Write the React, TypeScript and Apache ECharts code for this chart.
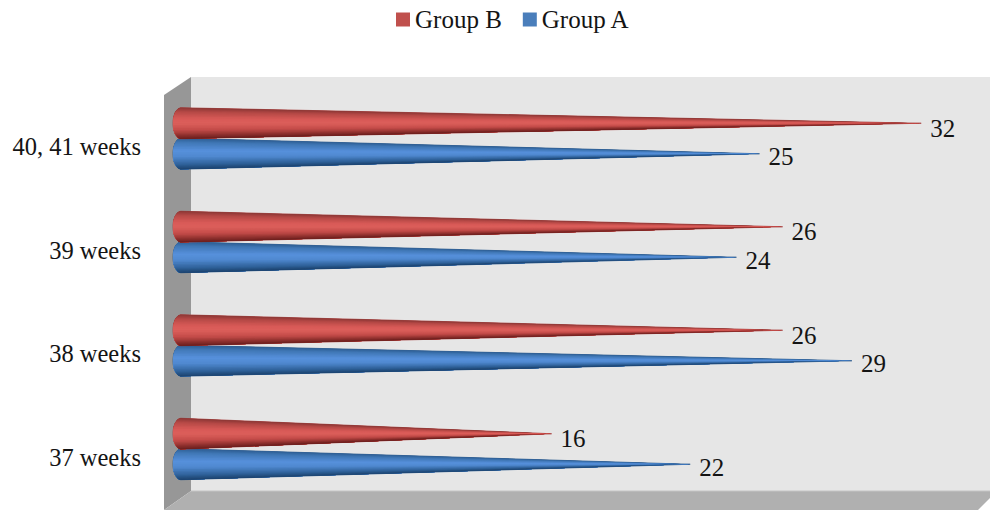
import React, { useEffect, useRef } from "react";
import * as echarts from "echarts";

const categories = ["37 weeks", "38 weeks", "39 weeks", "40, 41 weeks"];
const groupA = [22, 29, 24, 25];
const groupB = [16, 26, 26, 32];

const SERIF = '"Liberation Serif", "Times New Roman", serif';
const INK = "#141414";

// Colour ramps across a cone's height, top edge to bottom edge.
const redRamp: [number, number[]][] = [
  [0, [140, 56, 54]],
  [0.12, [180, 72, 69]],
  [0.35, [216, 90, 87]],
  [0.5, [220, 95, 91]],
  [0.72, [196, 76, 73]],
  [0.9, [140, 47, 45]],
  [1, [107, 31, 30]],
];
const blueRamp: [number, number[]][] = [
  [0, [47, 95, 148]],
  [0.12, [63, 118, 180]],
  [0.4, [87, 145, 220]],
  [0.6, [79, 136, 207]],
  [0.85, [47, 97, 153]],
  [1, [29, 68, 112]],
];

function rampColor(ramp: [number, number[]][], t: number): string {
  for (let i = 1; i < ramp.length; i++) {
    if (t <= ramp[i][0]) {
      const [t0, c0] = ramp[i - 1];
      const [t1, c1] = ramp[i];
      const k = (t - t0) / (t1 - t0);
      const mix = c0.map((c, j) => Math.round(c + (c1[j] - c) * k));
      return `rgb(${mix.join(",")})`;
    }
  }
  const last = ramp[ramp.length - 1][1];
  return `rgb(${last.join(",")})`;
}

const HALF_HEIGHT = 15.5;
const BASE_RX = 8;
const STEPS = 28;

// One cone per data item: painted as stacked slivers that all meet at the tip,
// so the shading narrows along the length the way a real cone's does.
function coneRenderer(ramp: [number, number[]][], offset: number, edge: string, labelDy: number) {
  return (_params: any, api: any) => {
    const value = api.value(0);
    const [tipX, cy0] = api.coord([value, api.value(1)]);
    const [baseX] = api.coord([0, api.value(1)]);
    const cy = cy0 + offset;
    const arc: number[][] = [];
    for (let i = 0; i <= STEPS; i++) {
      const angle = Math.PI * (i / STEPS);
      arc.push([baseX - BASE_RX * Math.sin(angle), cy - HALF_HEIGHT * Math.cos(angle)]);
    }
    // A fine outline keeps the needle point visible where the slivers get thin.
    const children: any[] = [
      {
        type: "polygon",
        shape: { points: [...arc, [tipX + 1, cy]] },
        style: { fill: edge, stroke: edge, lineWidth: 0.8 },
      },
    ];
    for (let i = 0; i < STEPS; i++) {
      const t = (1 - Math.cos(Math.PI * ((i + 0.5) / STEPS))) / 2;
      children.push({
        type: "polygon",
        shape: { points: [...arc.slice(i), [tipX, cy]] },
        style: { fill: rampColor(ramp, t), stroke: null },
      });
    }
    children.push({
      type: "text",
      x: tipX + 10,
      y: cy + labelDy,
      style: {
        text: String(value),
        font: `25px ${SERIF}`,
        fill: INK,
        textAlign: "left",
        textVerticalAlign: "middle",
      },
    });
    return { type: "group", children };
  };
}

export default function App() {
  const ref = useRef<HTMLDivElement>(null);

  useEffect(() => {
    document.body.style.margin = "0";
    const chart = echarts.init(ref.current!, null, { renderer: "svg" });
    chart.setOption({
      animation: false,
      backgroundColor: "#ffffff",
      legend: {
        left: 396,
        top: 7,
        padding: 0,
        itemWidth: 14,
        itemHeight: 14,
        itemGap: 21,
        icon: "rect",
        textStyle: { fontFamily: SERIF, fontSize: 25, color: INK },
        data: ["Group B", "Group A"],
      },
      grid: { left: 181, right: 0.5, top: 87, bottom: 9 },
      xAxis: { type: "value", min: 0, max: 35, show: false },
      yAxis: {
        type: "category",
        data: categories,
        axisLine: { show: false },
        axisTick: { show: false },
        splitLine: { show: false },
        axisLabel: {
          margin: 40,
          fontFamily: SERIF,
          fontSize: 24.5,
          color: INK,
          align: "right",
          // Top-anchored with a short line box: the labels sit below the band centre.
          verticalAlign: "top",
          lineHeight: 16,
        },
      },
      // The box behind the plot: back wall, left wall and floor.
      graphic: [
        { type: "polygon", z: 0, shape: { points: [[191, 77], [990, 77], [990, 491], [191, 491]] }, style: { fill: "#e6e6e6" } },
        { type: "polygon", z: 0, shape: { points: [[164, 95], [191, 77], [191, 491], [164, 510]] }, style: { fill: "#979797" } },
        { type: "polygon", z: 0, shape: { points: [[164, 510], [191, 491], [990, 491], [990, 498], [978, 510]] }, style: { fill: "#b0b0b0" } },
        { type: "line", z: 0, shape: { x1: 191, y1: 491, x2: 990, y2: 491 }, style: { stroke: "#c4c4c4", lineWidth: 1 } },
      ],
      series: [
        {
          name: "Group A",
          type: "custom",
          clip: false,
          itemStyle: { color: "#4a7ebb" },
          encode: { x: 0, y: 1 },
          data: groupA.map((v, i) => [v, i]),
          renderItem: coneRenderer(blueRamp, 15, "#2b5a8e", 3),
        },
        {
          name: "Group B",
          type: "custom",
          clip: false,
          itemStyle: { color: "#c0504d" },
          encode: { x: 0, y: 1 },
          data: groupB.map((v, i) => [v, i]),
          renderItem: coneRenderer(redRamp, -15.5, "#a83f3d", 5),
        },
      ],
    });
    return () => chart.dispose();
  }, []);

  return <div ref={ref} style={{ width: 990, height: 510 }} />;
}
